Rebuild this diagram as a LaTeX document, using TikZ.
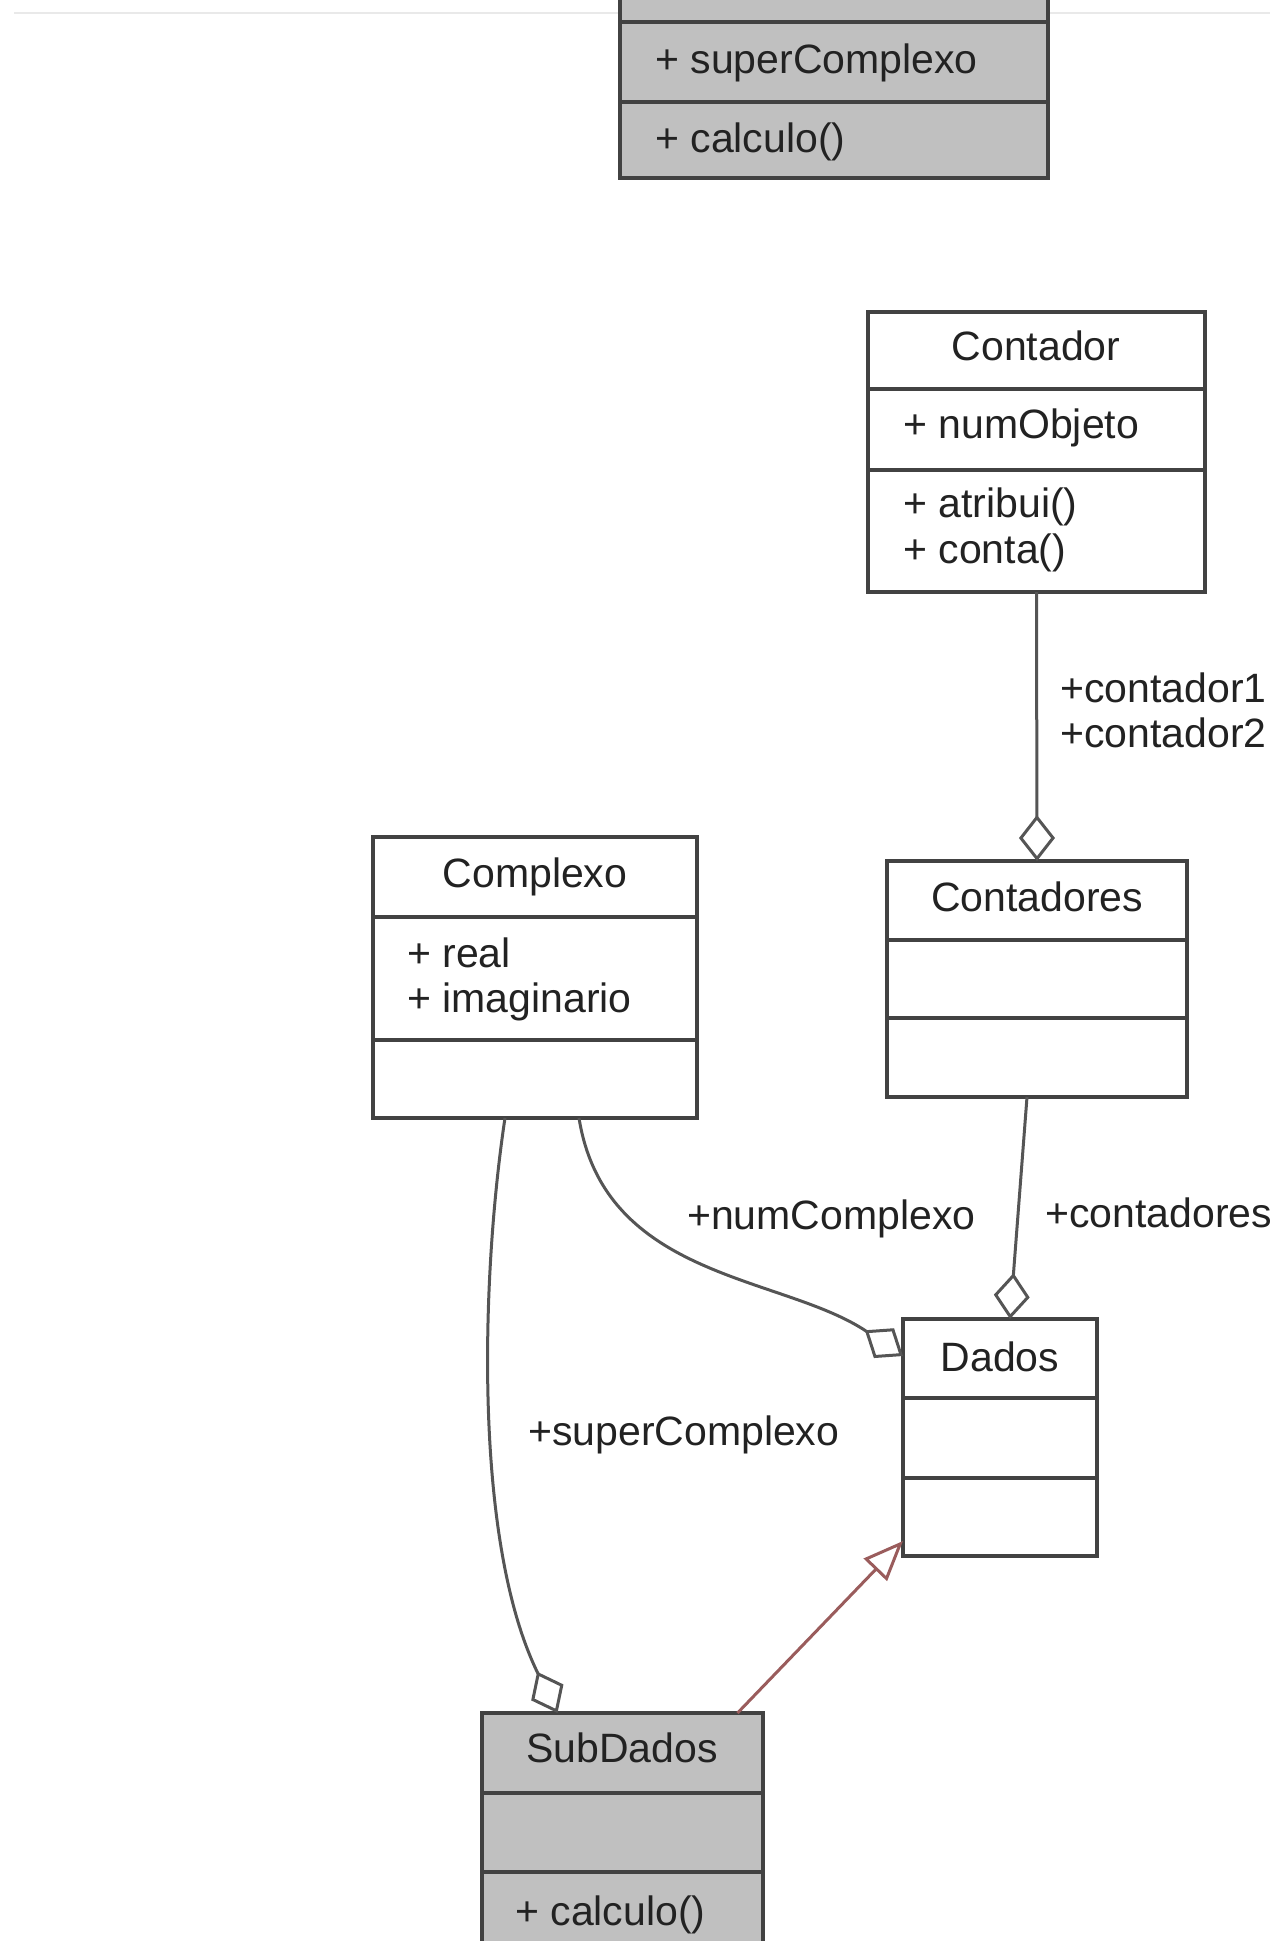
\documentclass[tikz,border=0pt]{standalone}
\usepackage{fontspec}
\setmainfont{Liberation Sans}
\usetikzlibrary{arrows.meta}
\definecolor{boxline}{HTML}{424242}
\definecolor{conline}{HTML}{555555}
\definecolor{grayfill}{HTML}{C0C0C0}
\definecolor{txt}{HTML}{222222}
\definecolor{genred}{HTML}{9A5C5C}
\definecolor{faint}{HTML}{E9E9E9}
\begin{document}
\begin{tikzpicture}[x=1pt,y=-1pt,
  box/.style={draw=boxline, line width=4.5pt, inner sep=0pt, outer sep=0pt, rectangle},
  whitebox/.style={box, fill=white},
  graybox/.style={box, fill=grayfill},
  sepline/.style={draw=boxline, line width=4pt},
  lbl/.style={font=\fontsize{41}{46}\selectfont, text=txt, inner sep=0pt},
  cname/.style={lbl, anchor=base},
  attr/.style={lbl, anchor=base west},
  conn/.style={draw=conline, line width=3pt},
  agg/.style={conn, -{Diamond[open, length=46pt, width=36pt]}},
  gen/.style={draw=genred, line width=3pt, -{Triangle[open, length=40pt, width=32pt]}},
]
\useasboundingbox (0,0) rectangle (1270,1941);
\clip (0,0) rectangle (1270,1941);

% faint top edge line
\draw[faint, line width=2pt] (14,12.5) coordinate (fl) -- (1270,12.5) coordinate (fr);

% ---- top (partially visible) class ----
\node[graybox, minimum width=428pt, minimum height=240pt, anchor=south west] (sup) at (620,178) {};
\draw[sepline] (sup.west |- 0,22) -- (sup.east |- 0,22);
\draw[sepline] (sup.west |- 0,102) -- (sup.east |- 0,102);
\node[attr] (supA) at (655,73) {+ superComplexo};
\node[attr] (supM) at (655,152) {+ calculo()};

% ---- Contador ----
\node[whitebox, minimum width=337pt, minimum height=280pt, anchor=north west] (contador) at (868,312) {};
\draw[sepline] (contador.west |- 0,389) -- (contador.east |- 0,389);
\draw[sepline] (contador.west |- 0,470) -- (contador.east |- 0,470);
\node[cname] (contadorN) at (1036,360) {Contador};
\node[attr] (contadorA) at (903,438) {+ numObjeto};
\node[attr] (contadorM1) at (903,517) {+ atribui()};
\node[attr] (contadorM2) at (903,563) {+ conta()};

% ---- Complexo ----
\node[whitebox, minimum width=324pt, minimum height=281pt, anchor=north west] (complexo) at (373,837) {};
\draw[sepline] (complexo.west |- 0,917) -- (complexo.east |- 0,917);
\draw[sepline] (complexo.west |- 0,1040) -- (complexo.east |- 0,1040);
\node[cname] (complexoN) at (535,887) {Complexo};
\node[attr] (complexoA1) at (407,967) {+ real};
\node[attr] (complexoA2) at (407,1012) {+ imaginario};

% ---- Contadores ----
\node[whitebox, minimum width=300pt, minimum height=236pt, anchor=north west] (contadores) at (887,861) {};
\draw[sepline] (contadores.west |- 0,940) -- (contadores.east |- 0,940);
\draw[sepline] (contadores.west |- 0,1018) -- (contadores.east |- 0,1018);
\node[cname] (contadoresN) at (1037,911) {Contadores};

% ---- Dados ----
\node[whitebox, minimum width=194pt, minimum height=237pt, anchor=north west] (dados) at (903,1319) {};
\draw[sepline] (dados.west |- 0,1398) -- (dados.east |- 0,1398);
\draw[sepline] (dados.west |- 0,1478) -- (dados.east |- 0,1478);
\node[cname] (dadosN) at (1000,1371) {Dados};

% ---- SubDados ----
\node[graybox, minimum width=281pt, minimum height=260pt, anchor=north west] (subdados) at (482,1713) {};
\draw[sepline] (subdados.west |- 0,1793) -- (subdados.east |- 0,1793);
\draw[sepline] (subdados.west |- 0,1872) -- (subdados.east |- 0,1872);
\node[cname] (subdadosN) at (622,1762) {SubDados};
\node[attr] (subdadosM) at (515,1925) {+ calculo()};

% ---- connectors ----
\draw[agg] (contador.south) -- (contadores.north);
\draw[agg] ([xshift=-10pt]contadores.south) -- ([xshift=10pt]dados.north);
\draw[agg] ([xshift=44pt]complexo.south) .. controls (605,1280) and (783,1275) .. ([yshift=-37pt]dados.north west);
\draw[agg] ([xshift=-30pt]complexo.south) .. controls (482,1270) and (472,1540) .. ([xshift=-65pt]subdados.north);
\draw[gen] ([xshift=115pt]subdados.north) -- ([yshift=15pt]dados.south west);

% ---- labels ----
\node[attr] (lblc1) at (1060,702) {+contador1};
\node[attr] (lblc2) at (1060,747) {+contador2};
\node[attr] (lblnum) at (687,1229) {+numComplexo};
\node[attr] (lblcts) at (1045,1227) {+contadores};
\node[attr] (lblsup) at (528,1445) {+superComplexo};
\end{tikzpicture}
\end{document}
